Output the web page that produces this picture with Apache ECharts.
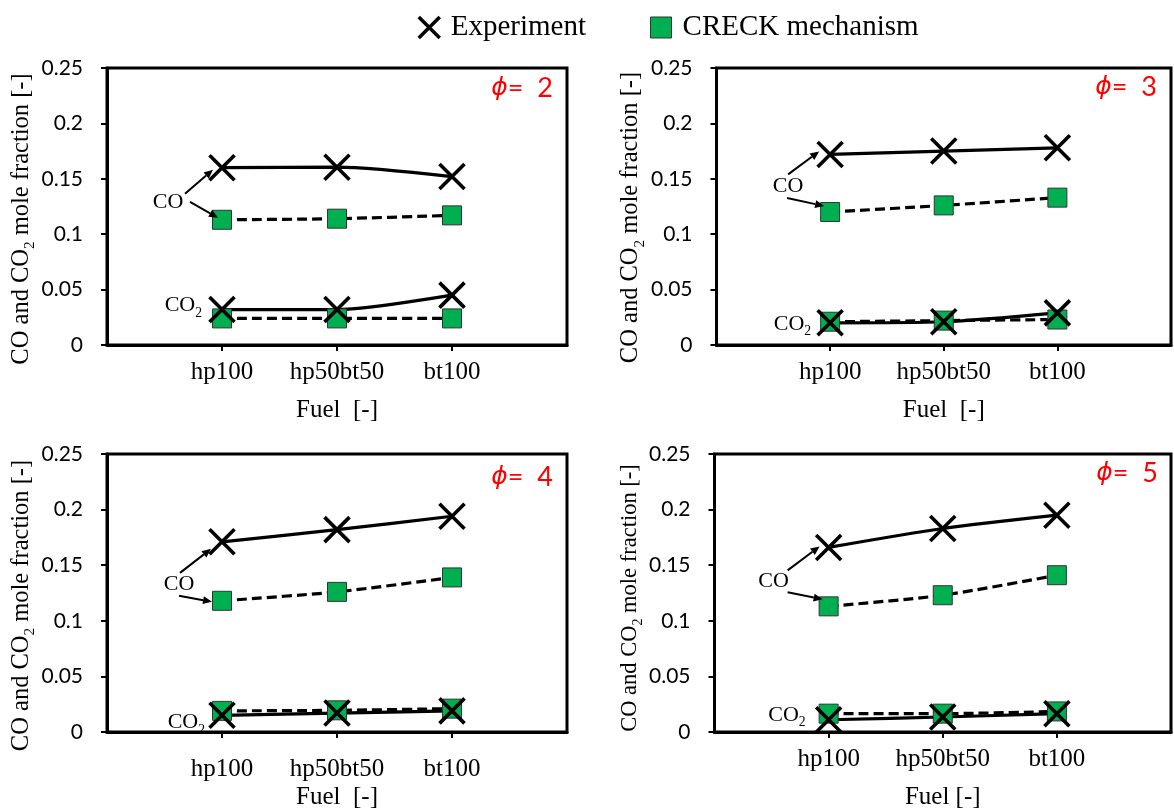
<!DOCTYPE html>
<html>
<head>
<meta charset="utf-8">
<title>CO and CO2 mole fraction</title>
<script src="https://cdn.jsdelivr.net/npm/echarts@6.0.0/dist/echarts.min.js"></script>
<style>
html, body { margin: 0; padding: 0; background: #fff; }
#main { width: 1174px; height: 812px; }
</style>
</head>
<body>
<div id="main"></div>
<script>
// fuels on the x axis (one blank slot is added at each end, like the excel plot)
const fuels = ['hp100', 'hp50bt50', 'bt100']
const phiValues = ['2', '3', '4', '5']

// mole fractions, one row per panel (phi = 2, 3, 4, 5), columns follow fuels
const expCO = [
    [0.160, 0.1605, 0.152],
    [0.172, 0.175, 0.178],
    [0.171, 0.182, 0.194],
    [0.166, 0.183, 0.195]
]
const expCO2 = [
    [0.032, 0.032, 0.045],
    [0.020, 0.021, 0.029],
    [0.015, 0.017, 0.019],
    [0.011, 0.0135, 0.0165]
]
const creckCO = [
    [0.113, 0.114, 0.117],
    [0.120, 0.126, 0.133],
    [0.118, 0.126, 0.139],
    [0.113, 0.123, 0.141]
]
const creckCO2 = [
    [0.024, 0.024, 0.024],
    [0.021, 0.022, 0.023],
    [0.019, 0.0195, 0.021],
    [0.0165, 0.0165, 0.0185]
]

const serif = '"Liberation Serif", "Times New Roman", serif'
const sans = 'Lato, Carlito, Calibri, sans-serif'
const xMark = 'path://M0,0L10,10M10,0L0,10'
const green = '#00B050'

// layout of the four panels (pixels)
const panels = [
    { left: 107, top: 68, height: 277, labelMargin: 15, fuelName: 'Fuel  [-]', nameSize: 24.5, namePad: 25,
        phi: [446, 20], co: [-54, 8], co2: [-20, -7], a1: [-37, 26, -9, 2], a2: [-32, -18, -4, -2] },
    { left: 716.5, top: 68, height: 277, labelMargin: 15, fuelName: 'Fuel  [-]', nameSize: 24.5, namePad: 22,
        phi: [440.5, 19], co: [-42, 3], co2: [-19, -2], a1: [-42, 20, -11, -3], a2: [-43, -14, -6, -6] },
    { left: 107, top: 454, height: 278, labelMargin: 25, fuelName: 'Fuel  [-]', nameSize: 24.5, namePad: 25,
        phi: [446, 23], co: [-43, 13], co2: [-17, 4], a1: [-42, 31, -11, 7], a2: [-43, -5, -10, 1] },
    { left: 714.5, top: 454, height: 278, labelMargin: 15, fuelName: 'Fuel [-]', nameSize: 22.5, namePad: 10,
        phi: [443.5, 19], co: [-55, 4], co2: [-23, -8], a1: [-41, 23, -9, -1], a2: [-41, -14, -6, -7] }
]
const gridWidth = 460

const pad = arr => [null, ...arr, null]

// subscript "2": a tall top padding lowers it against the centred main text
function subStyle (size) {
    return { fontFamily: serif, fontSize: size * 0.62, lineHeight: size * 0.62, color: '#000', fill: '#000', padding: [size * 0.7, 0, 0, 0] }
}

const chart = echarts.init(document.getElementById('main'))

const grid = []
const xAxis = []
const yAxis = []
const series = []

panels.forEach((p, i) => {
    grid.push({
        left: p.left, top: p.top, width: gridWidth, height: p.height,
        show: true, borderColor: '#000', borderWidth: 3, backgroundColor: 'transparent'
    })
    xAxis.push({
        gridIndex: i,
        type: 'category',
        data: ['', ...fuels, ''],
        boundaryGap: false,
        axisLine: { lineStyle: { color: '#000', width: 3 } },
        axisTick: {
            interval: idx => idx > 0 && idx <= fuels.length,
            length: 6,
            lineStyle: { color: '#000', width: 2 }
        },
        axisLabel: { interval: 0, margin: p.labelMargin, fontFamily: serif, fontSize: 25, color: '#000' },
        splitLine: { show: false },
        name: p.fuelName,
        nameLocation: 'middle',
        nameGap: 53,
        nameTextStyle: { fontFamily: serif, fontSize: 25, color: '#000' }
    })
    yAxis.push({
        gridIndex: i,
        type: 'value',
        min: 0,
        max: 0.25,
        interval: 0.05,
        axisLine: { show: true, lineStyle: { color: '#000', width: 3 } },
        axisTick: { show: true, length: 6, lineStyle: { color: '#000', width: 2 } },
        axisLabel: { margin: 24, fontFamily: sans, fontSize: 21, color: '#000' },
        splitLine: { show: false },
        name: '{a|CO and CO}{s|2}{a| mole fraction [-]}',
        nameLocation: 'middle',
        nameRotate: 90,
        nameGap: 71,
        nameTextStyle: {
            padding: [0, p.namePad, 0, 0],
            rich: {
                a: { fontFamily: serif, fontSize: p.nameSize, lineHeight: p.nameSize, color: '#000' },
                s: subStyle(p.nameSize)
            }
        }
    })

    const creckStyle = {
        type: 'line', xAxisIndex: i, yAxisIndex: i, name: 'CRECK mechanism',
        smooth: 0.25, symbol: 'rect', symbolSize: 19,
        lineStyle: { color: '#000', width: 3.2, type: [10, 5] },
        itemStyle: { color: green, borderColor: '#333', borderWidth: 1 },
        emphasis: { disabled: true }
    }
    const expStyle = {
        type: 'line', xAxisIndex: i, yAxisIndex: i, name: 'Experiment',
        smooth: 0.25, symbol: xMark, symbolSize: 25,
        lineStyle: { color: '#000', width: 3.2 },
        itemStyle: { color: 'transparent', borderColor: '#000', borderWidth: 3.6 },
        emphasis: { disabled: true }
    }
    series.push(Object.assign({}, creckStyle, { data: pad(creckCO[i]) }))
    series.push(Object.assign({}, creckStyle, { data: pad(creckCO2[i]) }))
    series.push(Object.assign({}, expStyle, { data: pad(expCO[i]) }))
    series.push(Object.assign({}, expStyle, { data: pad(expCO2[i]) }))
})

chart.setOption({
    animation: false,
    backgroundColor: '#fff',
    legend: {
        top: 8,
        left: 412,
        itemGap: 64,
        itemWidth: 21,
        itemHeight: 21,
        textStyle: { fontFamily: serif, fontSize: 29, color: '#000', padding: [0, 0, 0, 6] },
        data: [
            { name: 'Experiment', icon: xMark, itemStyle: { color: 'transparent', borderColor: '#000', borderWidth: 3.5 } },
            { name: 'CRECK mechanism', icon: 'rect', itemStyle: { color: green, borderColor: '#333', borderWidth: 1 } }
        ]
    },
    grid: grid,
    xAxis: xAxis,
    yAxis: yAxis,
    series: series
})

// annotations: phi labels, "CO" / "CO2" labels and arrows, anchored on the hp100 points
function arrow (sx, sy, ex, ey) {
    const len = Math.hypot(ex - sx, ey - sy)
    const dx = (ex - sx) / len
    const dy = (ey - sy) / len
    const bx = ex - dx * 9
    const by = ey - dy * 9
    return [
        { type: 'polyline', z: 100, shape: { points: [[sx, sy], [bx, by]] }, style: { stroke: '#000', lineWidth: 2, fill: null } },
        { type: 'polygon', z: 100, shape: { points: [[ex, ey], [bx - dy * 4, by + dx * 4], [bx + dy * 4, by - dx * 4]] }, style: { fill: '#000' } }
    ]
}

const graphics = []
panels.forEach((p, i) => {
    const finder = { xAxisIndex: i, yAxisIndex: i }
    const ptExp = chart.convertToPixel(finder, [fuels[0], expCO[i][0]])
    const ptCreck = chart.convertToPixel(finder, [fuels[0], creckCO[i][0]])
    const ptExp2 = chart.convertToPixel(finder, [fuels[0], expCO2[i][0]])
    const midY = (ptExp[1] + ptCreck[1]) / 2

    graphics.push({
        type: 'text', z: 100,
        x: p.left + p.phi[0], y: p.top + p.phi[1],
        style: {
            text: '{p|ϕ}{t|=  ' + phiValues[i] + '}',
            align: 'right', verticalAlign: 'middle',
            rich: {
                p: { fontFamily: '"DejaVu Sans", sans-serif', fontStyle: 'italic', fontSize: 25, fill: '#ff0000' },
                t: { fontFamily: sans, fontSize: 27, fill: '#ff0000' }
            }
        }
    })
    graphics.push({
        type: 'text', z: 100,
        x: ptExp[0] + p.co[0], y: midY + p.co[1],
        style: { text: 'CO', align: 'center', verticalAlign: 'middle', fontFamily: serif, fontSize: 22, fill: '#000' }
    })
    graphics.push({
        type: 'text', z: 100,
        x: ptExp2[0] + p.co2[0], y: ptExp2[1] + p.co2[1] + 3,
        style: {
            text: '{a|CO}{s|2}',
            align: 'right', verticalAlign: 'middle',
            rich: {
                a: { fontFamily: serif, fontSize: 22, lineHeight: 22, fill: '#000' },
                s: subStyle(22)
            }
        }
    })
    graphics.push(...arrow(ptExp[0] + p.a1[0], ptExp[1] + p.a1[1], ptExp[0] + p.a1[2], ptExp[1] + p.a1[3]))
    graphics.push(...arrow(ptCreck[0] + p.a2[0], ptCreck[1] + p.a2[1], ptCreck[0] + p.a2[2], ptCreck[1] + p.a2[3]))
})

chart.setOption({ graphic: graphics })
</script>
</body>
</html>
